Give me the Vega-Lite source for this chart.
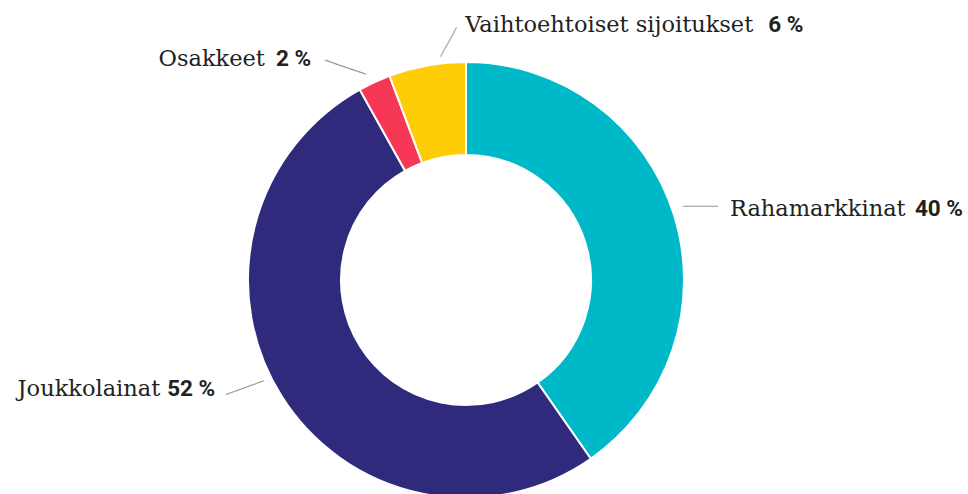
{
  "$schema": "https://vega.github.io/schema/vega-lite/v6.json",
  "width": 932,
  "height": 440,
  "autosize": {"type": "none"},
  "padding": {"left": 0, "top": 60, "right": 36, "bottom": 0},
  "background": "white",
  "config": {"view": {"stroke": null}},
  "data": {
    "values": [
      {"cat": "Rahamarkkinat", "value": 40.3, "pct": "40 %", "ord": 1},
      {"cat": "Joukkolainat", "value": 51.6, "pct": "52 %", "ord": 2},
      {"cat": "Osakkeet", "value": 2.4, "pct": "2 %", "ord": 3},
      {"cat": "Vaihtoehtoiset sijoitukset", "value": 5.7, "pct": "6 %", "ord": 4}
    ]
  },
  "encoding": {
    "theta": {"field": "value", "type": "quantitative", "stack": true},
    "order": {"field": "ord", "type": "quantitative"}
  },
  "layer": [
    {
      "mark": {"type": "arc", "innerRadius": 125, "outerRadius": 218, "stroke": "white", "strokeWidth": 2},
      "encoding": {
        "color": {
          "field": "cat", "type": "nominal", "legend": null,
          "scale": {
            "domain": ["Rahamarkkinat", "Joukkolainat", "Osakkeet", "Vaihtoehtoiset sijoitukset"],
            "range": ["#00B9C8", "#2F2A7C", "#F73756", "#FFCD05"]
          }
        }
      }
    },
    {
      "mark": {"type": "text", "radius": 218, "dx": 56, "dy": 1, "align": "left", "baseline": "alphabetic", "font": "DejaVu Serif", "fontSize": 22.5, "color": "#222"},
      "encoding": {"detail": {"field": "cat"}, "text": {"field": "cat"}, "opacity": {"condition": {"test": "datum.cat === 'Rahamarkkinat'", "value": 1}, "value": 0}}
    },
    {
      "mark": {"type": "text", "radius": 218, "dx": 241, "dy": 1, "align": "left", "baseline": "alphabetic", "font": "Roboto", "fontWeight": "bold", "fontSize": 22.5, "color": "#222"},
      "encoding": {"detail": {"field": "cat"}, "text": {"field": "pct"}, "opacity": {"condition": {"test": "datum.cat === 'Rahamarkkinat'", "value": 1}, "value": 0}}
    },
    {
      "mark": {"type": "text", "radius": 218, "dx": -121, "dy": 0.5, "align": "right", "baseline": "alphabetic", "font": "DejaVu Serif", "fontSize": 22.5, "color": "#222"},
      "encoding": {"detail": {"field": "cat"}, "text": {"field": "cat"}, "opacity": {"condition": {"test": "datum.cat === 'Joukkolainat'", "value": 1}, "value": 0}}
    },
    {
      "mark": {"type": "text", "radius": 218, "dx": -114, "dy": 0.5, "align": "left", "baseline": "alphabetic", "font": "Roboto", "fontWeight": "bold", "fontSize": 22.5, "color": "#222"},
      "encoding": {"detail": {"field": "cat"}, "text": {"field": "pct"}, "opacity": {"condition": {"test": "datum.cat === 'Joukkolainat'", "value": 1}, "value": 0}}
    },
    {
      "mark": {"type": "text", "radius": 218, "dx": -109.5, "dy": -16, "align": "right", "baseline": "alphabetic", "font": "DejaVu Serif", "fontSize": 22.5, "color": "#222"},
      "encoding": {"detail": {"field": "cat"}, "text": {"field": "cat"}, "opacity": {"condition": {"test": "datum.cat === 'Osakkeet'", "value": 1}, "value": 0}}
    },
    {
      "mark": {"type": "text", "radius": 218, "dx": -98.5, "dy": -16, "align": "left", "baseline": "alphabetic", "font": "Roboto", "fontWeight": "bold", "fontSize": 22.5, "color": "#222"},
      "encoding": {"detail": {"field": "cat"}, "text": {"field": "pct"}, "opacity": {"condition": {"test": "datum.cat === 'Osakkeet'", "value": 1}, "value": 0}}
    },
    {
      "mark": {"type": "text", "radius": 218, "dx": 38, "dy": -33.5, "align": "left", "baseline": "alphabetic", "font": "DejaVu Serif", "fontSize": 22.5, "color": "#222"},
      "encoding": {"detail": {"field": "cat"}, "text": {"field": "cat"}, "opacity": {"condition": {"test": "datum.cat === 'Vaihtoehtoiset sijoitukset'", "value": 1}, "value": 0}}
    },
    {
      "mark": {"type": "text", "radius": 218, "dx": 341, "dy": -33.5, "align": "left", "baseline": "alphabetic", "font": "Roboto", "fontWeight": "bold", "fontSize": 22.5, "color": "#222"},
      "encoding": {"detail": {"field": "cat"}, "text": {"field": "pct"}, "opacity": {"condition": {"test": "datum.cat === 'Vaihtoehtoiset sijoitukset'", "value": 1}, "value": 0}}
    },
    {
      "mark": {"type": "text", "radius": 218, "text": "─────", "font": "DejaVu Sans", "fontSize": 11.6, "color": "#999", "align": "center", "baseline": "middle", "angle": 0, "dx": 26.6, "dy": -7.4},
      "encoding": {"detail": {"field": "cat"}, "opacity": {"condition": {"test": "datum.cat === 'Rahamarkkinat'", "value": 1}, "value": 0}}
    },
    {
      "mark": {"type": "text", "radius": 218, "text": "─────", "font": "DejaVu Sans", "fontSize": 13.3, "color": "#999", "align": "center", "baseline": "middle", "angle": -20, "dx": -31.4, "dy": -19.4},
      "encoding": {"detail": {"field": "cat"}, "opacity": {"condition": {"test": "datum.cat === 'Joukkolainat'", "value": 1}, "value": 0}}
    },
    {
      "mark": {"type": "text", "radius": 218, "text": "─────", "font": "DejaVu Sans", "fontSize": 14.3, "color": "#999", "align": "center", "baseline": "middle", "angle": 19, "dx": -32.0, "dy": -3.9},
      "encoding": {"detail": {"field": "cat"}, "opacity": {"condition": {"test": "datum.cat === 'Osakkeet'", "value": 1}, "value": 0}}
    },
    {
      "mark": {"type": "text", "radius": 218, "text": "─────", "font": "DejaVu Sans", "fontSize": 11, "color": "#999", "align": "center", "baseline": "middle", "angle": -61, "dx": 30.8, "dy": 8.1},
      "encoding": {"detail": {"field": "cat"}, "opacity": {"condition": {"test": "datum.cat === 'Vaihtoehtoiset sijoitukset'", "value": 1}, "value": 0}}
    }
  ]
}
